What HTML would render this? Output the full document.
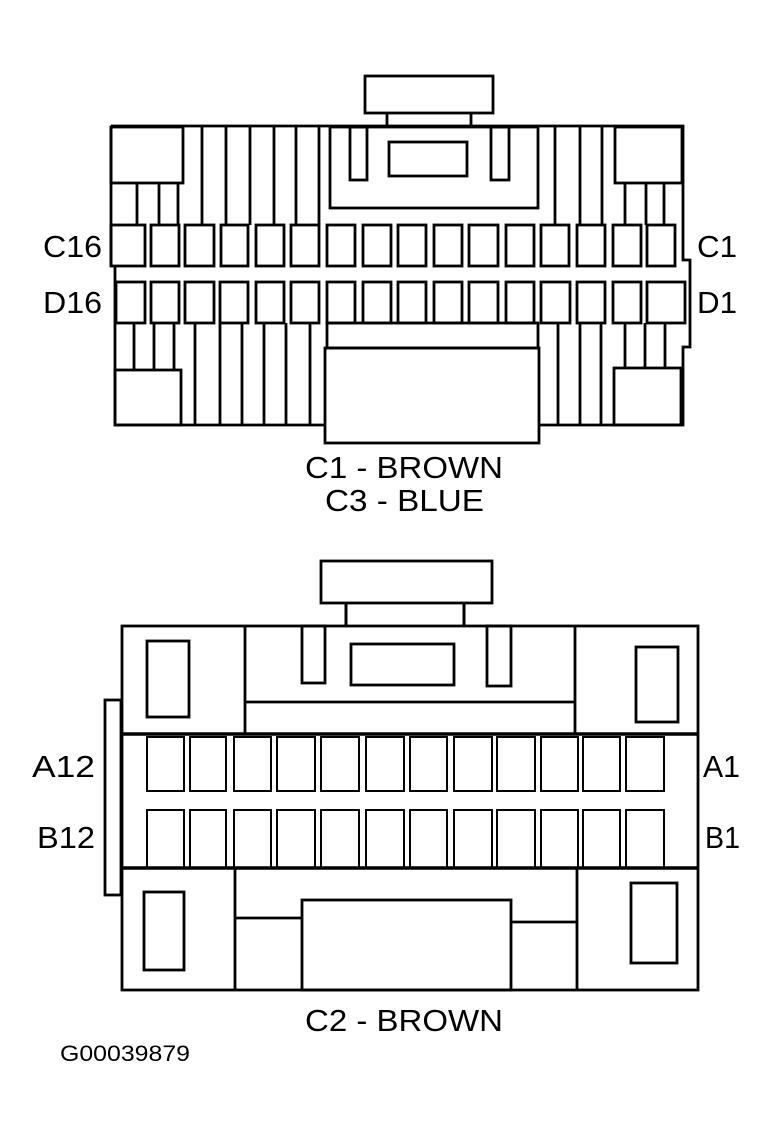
<!DOCTYPE html>
<html><head><style>html,body{margin:0;padding:0;background:#fff}svg{display:block}text{font-family:"Liberation Sans",Arial,sans-serif;fill:#000}</style></head>
<body>
<svg width="774" height="1136" viewBox="0 0 774 1136" xmlns="http://www.w3.org/2000/svg">
<g fill="none" stroke="#000" stroke-width="2.8">
<!-- TOP CONNECTOR -->
<rect x="365" y="76" width="128" height="37"/>
<line x1="387" y1="113" x2="387" y2="126"/><line x1="471" y1="113" x2="471" y2="126"/>
<path d="M111 126 H683 V260 H690 V347 H683 V425 H539 M325 425 H115 V266"/>
<line x1="111" y1="126" x2="111" y2="266"/>
<rect x="111" y="127" width="72" height="56"/>
<line x1="137" y1="183" x2="137" y2="225"/><line x1="159" y1="183" x2="159" y2="225"/><line x1="178" y1="183" x2="178" y2="225"/>
<line x1="202" y1="126" x2="202" y2="225"/><line x1="226" y1="126" x2="226" y2="225"/><line x1="250" y1="126" x2="250" y2="225"/><line x1="274" y1="126" x2="274" y2="225"/><line x1="296" y1="126" x2="296" y2="225"/><line x1="319" y1="126" x2="319" y2="225"/>
<rect x="330" y="127" width="208" height="81"/>
<rect x="350" y="127" width="17" height="53"/><rect x="389" y="142" width="78" height="34"/><rect x="491" y="127" width="18" height="53"/>
<line x1="555" y1="126" x2="555" y2="225"/><line x1="580" y1="126" x2="580" y2="225"/><line x1="602" y1="126" x2="602" y2="225"/>
<rect x="615" y="127" width="67" height="56"/>
<line x1="625" y1="183" x2="625" y2="225"/><line x1="646" y1="183" x2="646" y2="225"/><line x1="664" y1="183" x2="664" y2="225"/>
<rect x="111" y="225" width="34" height="41"/><rect x="151" y="225" width="28" height="41"/><rect x="185" y="225" width="29" height="41"/><rect x="221" y="225" width="27" height="41"/><rect x="256" y="225" width="28" height="41"/><rect x="291" y="225" width="28" height="41"/><rect x="327" y="225" width="28" height="41"/><rect x="363" y="225" width="28" height="41"/><rect x="398" y="225" width="28" height="41"/><rect x="434" y="225" width="28" height="41"/><rect x="469" y="225" width="29" height="41"/><rect x="506" y="225" width="28" height="41"/><rect x="541" y="225" width="28" height="41"/><rect x="577" y="225" width="28" height="41"/><rect x="613" y="225" width="28" height="41"/><rect x="647" y="225" width="28" height="41"/>
<rect x="116" y="282" width="29" height="41"/><rect x="151" y="282" width="28" height="41"/><rect x="185" y="282" width="29" height="41"/><rect x="220" y="282" width="28" height="41"/><rect x="256" y="282" width="28" height="41"/><rect x="291" y="282" width="28" height="41"/><rect x="327" y="282" width="28" height="41"/><rect x="363" y="282" width="28" height="41"/><rect x="398" y="282" width="28" height="41"/><rect x="434" y="282" width="28" height="41"/><rect x="469" y="282" width="29" height="41"/><rect x="506" y="282" width="28" height="41"/><rect x="541" y="282" width="29" height="41"/><rect x="577" y="282" width="28" height="41"/><rect x="613" y="282" width="28" height="41"/><rect x="647" y="282" width="38" height="41"/>
<line x1="134" y1="323" x2="134" y2="370"/><line x1="154" y1="323" x2="154" y2="370"/><line x1="174" y1="323" x2="174" y2="370"/>
<rect x="115" y="370" width="66" height="55"/>
<line x1="195" y1="323" x2="195" y2="425"/><line x1="220" y1="323" x2="220" y2="425"/><line x1="242" y1="323" x2="242" y2="425"/><line x1="264" y1="323" x2="264" y2="425"/><line x1="286" y1="323" x2="286" y2="425"/><line x1="310" y1="323" x2="310" y2="425"/>
<rect x="327" y="323" width="211" height="25"/>
<rect x="325" y="348" width="214" height="95"/>
<line x1="558" y1="323" x2="558" y2="425"/><line x1="580" y1="323" x2="580" y2="425"/><line x1="601" y1="323" x2="601" y2="425"/>
<line x1="625" y1="323" x2="625" y2="368"/><line x1="645" y1="323" x2="645" y2="368"/><line x1="665" y1="323" x2="665" y2="368"/>
<rect x="614" y="368" width="67" height="57"/>

<!-- BOTTOM CONNECTOR -->
<rect x="321" y="561" width="171" height="42"/>
<line x1="346" y1="603" x2="346" y2="626" stroke-width="3"/><line x1="464" y1="603" x2="464" y2="626" stroke-width="3"/>
<rect x="122" y="626" width="576" height="364"/>
<line x1="245" y1="626" x2="245" y2="733"/><line x1="575" y1="626" x2="575" y2="733"/>
<line x1="245" y1="702" x2="575" y2="702"/>
<rect x="302" y="626" width="23" height="57"/><rect x="351" y="644" width="103" height="41"/><rect x="487" y="626" width="24" height="60"/>
<rect x="147" y="641" width="42" height="76"/><rect x="636" y="647" width="42" height="75"/>
<line x1="122" y1="734" x2="698" y2="734" stroke-width="3.5"/>
<rect x="105" y="700" width="16" height="195"/>
<g stroke-width="2">
<rect x="147" y="737" width="37" height="54"/><rect x="190" y="737" width="36" height="54"/><rect x="234" y="737" width="37" height="54"/><rect x="277" y="737" width="38" height="54"/><rect x="321" y="737" width="38" height="54"/><rect x="366" y="737" width="38" height="54"/><rect x="410" y="737" width="37" height="54"/><rect x="454" y="737" width="38" height="54"/><rect x="497" y="737" width="38" height="54"/><rect x="541" y="737" width="37" height="54"/><rect x="583" y="737" width="37" height="54"/><rect x="626" y="737" width="38" height="54"/>
<rect x="147" y="810" width="37" height="58"/><rect x="190" y="810" width="36" height="58"/><rect x="234" y="810" width="37" height="58"/><rect x="277" y="810" width="38" height="58"/><rect x="321" y="810" width="38" height="58"/><rect x="366" y="810" width="38" height="58"/><rect x="410" y="810" width="37" height="58"/><rect x="454" y="810" width="38" height="58"/><rect x="497" y="810" width="38" height="58"/><rect x="541" y="810" width="37" height="58"/><rect x="583" y="810" width="37" height="58"/><rect x="626" y="810" width="38" height="58"/>
</g>
<line x1="122" y1="868" x2="698" y2="868" stroke-width="3.5"/>
<line x1="235" y1="868" x2="235" y2="990"/><line x1="577" y1="868" x2="577" y2="990"/>
<rect x="144" y="892" width="40" height="78"/><rect x="631" y="883" width="46" height="80"/>
<rect x="302" y="900" width="209" height="90"/>
<line x1="235" y1="918" x2="302" y2="918"/><line x1="511" y1="922" x2="577" y2="922"/>
</g>
<g font-size="31">
<text x="43" y="257" textLength="59" lengthAdjust="spacingAndGlyphs">C16</text>
<text x="43" y="313" textLength="59" lengthAdjust="spacingAndGlyphs">D16</text>
<text x="697" y="257" textLength="40" lengthAdjust="spacingAndGlyphs">C1</text>
<text x="697" y="313" textLength="40" lengthAdjust="spacingAndGlyphs">D1</text>
<text x="305" y="478" textLength="198" lengthAdjust="spacingAndGlyphs">C1 - BROWN</text>
<text x="325" y="511" textLength="159" lengthAdjust="spacingAndGlyphs">C3 - BLUE</text>
<text x="32" y="777" textLength="63" lengthAdjust="spacingAndGlyphs">A12</text>
<text x="37" y="848" textLength="58" lengthAdjust="spacingAndGlyphs">B12</text>
<text x="703" y="777" textLength="37" lengthAdjust="spacingAndGlyphs">A1</text>
<text x="705" y="848" textLength="35" lengthAdjust="spacingAndGlyphs">B1</text>
<text x="305" y="1031" textLength="198" lengthAdjust="spacingAndGlyphs">C2 - BROWN</text>
</g>
<text x="60" y="1061" font-size="22" textLength="130" lengthAdjust="spacingAndGlyphs">G00039879</text>
</svg>
</body></html>
